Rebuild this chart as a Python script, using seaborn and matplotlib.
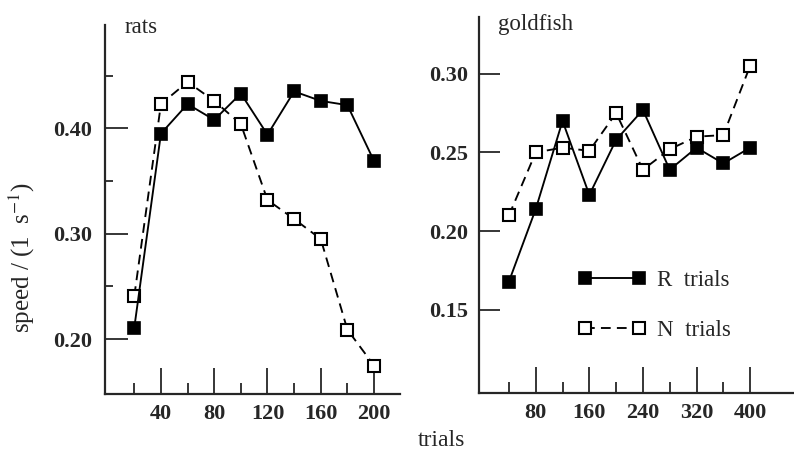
import matplotlib
matplotlib.use("Agg")
import matplotlib.pyplot as plt
import seaborn as sns
import numpy as np
from matplotlib.ticker import FixedLocator

# ---- data ----
rat_trials = [20, 40, 60, 80, 100, 120, 140, 160, 180, 200]
rat_R = [0.211, 0.395, 0.423, 0.408, 0.433, 0.394, 0.435, 0.426, 0.422, 0.369]
rat_N = [0.241, 0.423, 0.444, 0.426, 0.404, 0.332, 0.314, 0.295, 0.209, 0.175]

fish_trials = [40, 80, 120, 160, 200, 240, 280, 320, 360, 400]
fish_R = [0.168, 0.214, 0.270, 0.223, 0.258, 0.277, 0.239, 0.253, 0.243, 0.253]
fish_N = [0.210, 0.250, 0.253, 0.251, 0.275, 0.239, 0.252, 0.260, 0.261, 0.305]

rat_xmajor = [40, 80, 120, 160, 200]
rat_xminor = [20, 60, 100, 140, 180]
rat_ymajor = [0.20, 0.30, 0.40]
rat_yminor = [0.25, 0.35, 0.45]
fish_xmajor = [80, 160, 240, 320, 400]
fish_xminor = [40, 120, 200, 280, 360]
fish_ymajor = [0.15, 0.20, 0.25, 0.30]

series_labels = ["R  trials", "N  trials"]

sns.set_style("ticks")
plt.rcParams['font.family'] = ['Liberation Serif', 'DejaVu Serif']
plt.rcParams['mathtext.fontset'] = 'stix'

fig = plt.figure(figsize=(7.94, 4.54), dpi=100)
ax1 = fig.add_axes([105/794, 1-394/454, 295/794, (394-25)/454])
ax2 = fig.add_axes([479/794, 1-393.3/454, 314/794, (393.3-17)/454])

lw = 1.35
ms = 9.3
TXT = 16.5
TICK = 16

def draw(ax, x, r, n):
    sns.lineplot(x=x, y=n, ax=ax, color="black", lw=lw, linestyle=(0, (5.2, 3.3)),
                 marker="s", markersize=ms, markerfacecolor="white",
                 markeredgecolor="black", markeredgewidth=1.5, label=series_labels[1],
                 zorder=3)
    sns.lineplot(x=x, y=r, ax=ax, color="black", lw=lw, linestyle="-",
                 marker="s", markersize=ms, markerfacecolor="black",
                 markeredgecolor="black", markeredgewidth=1.2, label=series_labels[0],
                 zorder=4)

draw(ax1, rat_trials, rat_R, rat_N)
draw(ax2, fish_trials, fish_R, fish_N)

ax1.set_xlim(-2, 219.5)
ax1.set_ylim(0.148, 0.498)
ax2.set_xlim(-4.7, 464)
ax2.set_ylim(0.097, 0.336)

for ax in (ax1, ax2):
    for s in ("top", "right"):
        ax.spines[s].set_visible(False)
    for s in ("left", "bottom"):
        ax.spines[s].set_linewidth(1.6)
    ax.set_xlabel("")
    ax.set_ylabel("")

ax1.xaxis.set_major_locator(FixedLocator(rat_xmajor))
ax1.xaxis.set_minor_locator(FixedLocator(rat_xminor))
ax1.yaxis.set_major_locator(FixedLocator(rat_ymajor))
ax1.yaxis.set_minor_locator(FixedLocator(rat_yminor))
ax1.set_xticklabels([str(v) for v in rat_xmajor])
ax1.set_yticklabels([f"{v:.2f}" for v in rat_ymajor])

ax2.xaxis.set_major_locator(FixedLocator(fish_xmajor))
ax2.xaxis.set_minor_locator(FixedLocator(fish_xminor))
ax2.yaxis.set_major_locator(FixedLocator(fish_ymajor))
ax2.set_xticklabels([str(v) for v in fish_xmajor])
ax2.set_yticklabels([f"{v:.2f}" for v in fish_ymajor])

for ax, ylen, ypad in ((ax1, 16.5, 9), (ax2, 15, 8)):
    ax.tick_params(axis="x", which="major", direction="in", length=18.5, width=1.3,
                   pad=7, labelsize=TICK)
    ax.tick_params(axis="x", which="minor", direction="in", length=8, width=1.3)
    ax.tick_params(axis="y", which="major", direction="in", length=ylen, width=1.3,
                   pad=ypad, labelsize=TICK)
    ax.tick_params(axis="y", which="minor", direction="in", length=6, width=1.3)
    for lab in ax.get_xticklabels() + ax.get_yticklabels():
        lab.set_fontweight("bold")

ax1.get_legend().remove()
handles, labels = ax2.get_legend_handles_labels()
order = [labels.index(series_labels[0]), labels.index(series_labels[1])]
ax2.legend([handles[i] for i in order], [labels[i] for i in order],
           loc="center left", bbox_to_anchor=(0.315, 0.234), frameon=False,
           numpoints=2, handlelength=2.95, handletextpad=0.52, borderpad=0,
           borderaxespad=0, labelspacing=1.25, fontsize=TXT)

ax1.text(0.068, 0.992, "rats", transform=ax1.transAxes, fontsize=TXT,
         ha="left", va="center")
ax2.text(0.06, 0.979, "goldfish", transform=ax2.transAxes, fontsize=TXT,
         ha="left", va="center")

fig.text(22/794, 1-258/454, "speed / (1  s$^{-1}$)", rotation=90, fontsize=18,
         ha="center", va="center")
fig.text(441/794, 1-440/454, "trials", fontsize=17, ha="center", va="center")

fig.savefig("out.png", dpi=100)
